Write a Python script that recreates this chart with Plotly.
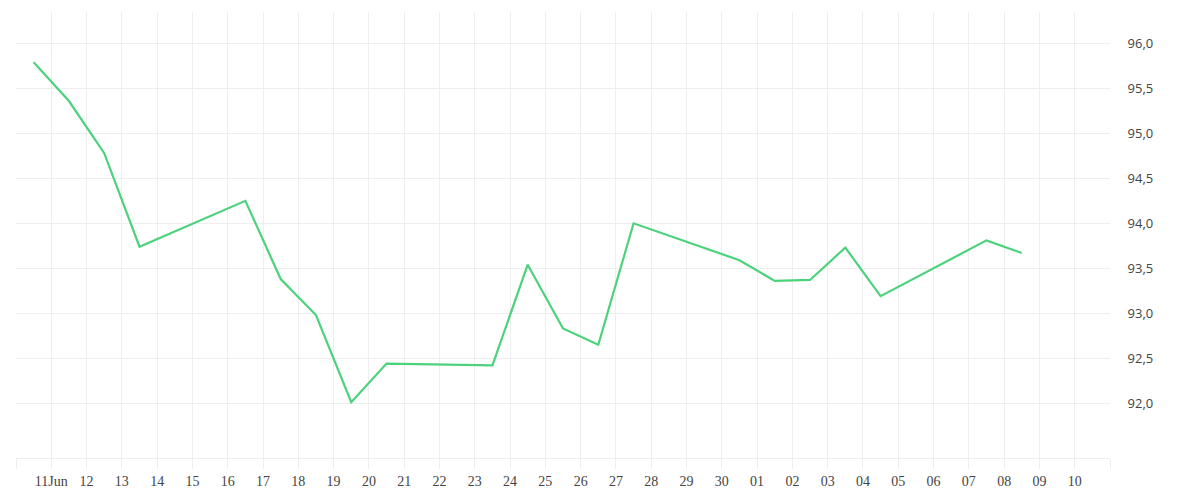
"""
Daily price line, Jun-Jul 2024 — recreated with Plotly.
Points sit at mid-day, y axis on the right, comma decimals.
"""

import plotly.graph_objects as go

# ---------- data ----------

DATES = [
    "2024-06-10 12:00", "2024-06-11 12:00", "2024-06-12 12:00", "2024-06-13 12:00",
    "2024-06-16 12:00", "2024-06-17 12:00", "2024-06-18 12:00", "2024-06-19 12:00",
    "2024-06-20 12:00", "2024-06-23 12:00", "2024-06-24 12:00", "2024-06-25 12:00",
    "2024-06-26 12:00", "2024-06-27 12:00", "2024-06-30 12:00", "2024-07-01 12:00",
    "2024-07-02 12:00", "2024-07-03 12:00", "2024-07-04 12:00", "2024-07-07 12:00",
    "2024-07-08 12:00",
]
PRICES = [
    95.79, 95.36, 94.78, 93.74,
    94.25, 93.38, 92.98, 92.01,
    92.44, 92.42, 93.54, 92.83,
    92.65, 94.00, 93.59, 93.36,
    93.37, 93.73, 93.19, 93.81,
    93.67,
]

TICK_DAYS = (
    [f"2024-06-{d:02d}" for d in range(10, 31)]
    + [f"2024-07-{d:02d}" for d in range(1, 12)]
)
TICK_TEXT = (
    ["", "11Jun"] + [f"{d:02d}" for d in range(12, 31)]
    + [f"{d:02d}" for d in range(1, 11)] + [""]
)
Y_TICKS = [92.0, 92.5, 93.0, 93.5, 94.0, 94.5, 95.0, 95.5, 96.0]

X_RANGE = ["2024-06-10", "2024-07-11"]
Y_RANGE = [91.39, 96.35]

GREEN = "#4cd27c"
GRID = "#eeeeee"

# ---------- chart ----------

fig = go.Figure(go.Scatter(
    x=DATES, y=PRICES, mode="lines",
    line=dict(color=GREEN, width=2.2),
    hoverinfo="x+y",
))

# page body adds 8px, so the figure is sized to fit inside the window
fig.update_layout(
    width=1184, height=484,
    margin=dict(l=8, r=82, t=4, b=34),
    paper_bgcolor="white", plot_bgcolor="white",
    separators=",.",
    showlegend=False,
)

fig.update_xaxes(
    type="date", range=X_RANGE,
    tickmode="array", tickvals=TICK_DAYS, ticktext=TICK_TEXT,
    showgrid=True, gridcolor=GRID, gridwidth=1,
    showline=True, linecolor=GRID, linewidth=1,
    ticks="outside", ticklen=10, tickcolor=GRID, tickwidth=1,
    tickfont=dict(family="Liberation Serif", size=14, color="#444444"),
    zeroline=False,
)

fig.update_yaxes(
    side="right", range=Y_RANGE,
    tickmode="array", tickvals=Y_TICKS, tickformat=".1f",
    showgrid=True, gridcolor=GRID, gridwidth=1,
    showline=False, zeroline=False,
    ticks="outside", ticklen=14, tickcolor="rgba(0,0,0,0)",
    tickfont=dict(family="Open Sans", size=13, color="#444444"),
)

fig.write_html("out.html")
